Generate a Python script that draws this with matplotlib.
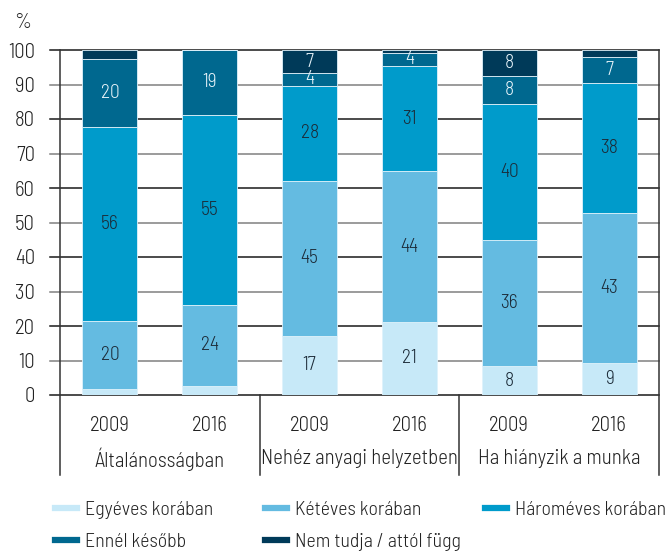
#!/usr/bin/env python
import numpy as np
import matplotlib
matplotlib.use('Agg')
import matplotlib.pyplot as plt
from matplotlib.lines import Line2D

plt.rcParams['font.family'] = ['Barlow Semi Condensed', 'DejaVu Sans']
plt.rcParams['font.weight'] = 300

groups = ['Általánosságban', 'Nehéz anyagi helyzetben', 'Ha hiányzik a munka']
years = ['2009', '2016', '2009', '2016', '2009', '2016']
series = ['Egyéves korában', 'Kétéves korában', 'Hároméves korában',
          'Ennél később', 'Nem tudja / attól függ']

# shares per bar (%)
egyeves = [1.8, 2.6, 17.2, 21.2, 8.4, 9.4]
keteves = [19.6, 23.6, 44.8, 43.6, 36.4, 43.4]
harom = [56.4, 55.0, 27.6, 30.6, 39.6, 37.7]
kesobb = [19.6, 18.8, 3.7, 3.7, 8.0, 7.4]
nem_tudja = [2.6, 0.0, 6.7, 0.9, 7.6, 2.1]

colors = ['#c7e9f8', '#64bbe1', '#009bcb', '#00688f', '#003a59']
text_colors = ['#1c2b38', '#1c2b38', '#1c2b38', '#e8f4fa', '#e8f4fa']

fig = plt.figure(figsize=(6.66, 5.51), dpi=100)
ax = fig.add_axes([60 / 666, 1 - 395 / 551, 599 / 666, 345 / 551])

x = np.arange(len(years))
bottom = np.zeros(len(years))
for vals, col, tcol, name in zip([egyeves, keteves, harom, kesobb, nem_tudja],
                                 colors, text_colors, series):
    vals = np.array(vals)
    ax.bar(x, vals, 0.55, bottom=bottom, color=col, edgecolor='#dff2fb',
           linewidth=0.6, zorder=3, label=name)
    for xi, v, b in zip(x, vals, bottom):
        if v >= 3.5:
            ax.text(xi, b + v / 2, f'{round(v)}', ha='center', va='center',
                    fontsize=14, color=tcol, zorder=4)
    bottom += vals

# gridlines with outward tick stubs
for t in range(0, 101, 10):
    c = '#1a1a1a' if t % 20 == 0 else '#808080'
    ax.axhline(t, xmin=-10 / 599, xmax=1, color=c, lw=1.1, zorder=1,
               clip_on=False)

ax.set_xlim(-0.5, 5.5)
ax.set_ylim(0, 100)
ax.set_yticks(range(0, 101, 10))
ax.tick_params(axis='y', length=0, pad=18, labelsize=15, labelcolor='#222222')
ax.set_xticks(x)
ax.set_xticklabels(years)
ax.tick_params(axis='x', length=0, pad=15, labelsize=15, labelcolor='#222222')
for s in ax.spines.values():
    s.set_visible(False)

# group separators and frame lines reaching below the axis
trans = ax.get_xaxis_transform()
for xv in [-0.5, 5.5]:
    ax.plot([xv, xv], [1, -0.232], transform=trans, color='#333333', lw=1.1,
            clip_on=False, zorder=2)
for xv in [1.5, 3.5]:
    ax.plot([xv, xv], [0, -0.232], transform=trans, color='#333333', lw=1.1,
            clip_on=False, zorder=2)
for i, g in enumerate(groups):
    ax.text(2 * i + 0.5, -0.185, g, transform=trans, ha='center', va='center',
            fontsize=15, color='#222222')

ax.text(-0.063, 1.08, '%', transform=ax.transAxes, ha='center', va='center',
        fontsize=15, color='#222222')

# legend, three columns
handles = [Line2D([0], [0], color=c, lw=4.5) for c in colors]
columns = [([0, 3], 55), ([1, 4], 265), ([2], 485)]
for idx, xpos in columns:
    leg = fig.legend([handles[i] for i in idx], [series[i] for i in idx],
                     loc='upper left', bbox_to_anchor=(xpos / 666, 1 - 501 / 551),
                     frameon=False, fontsize=14.3, handlelength=1.1,
                     handletextpad=0.4, labelspacing=0.72, borderpad=0,
                     borderaxespad=0)
    for t in leg.get_texts():
        t.set_color('#222222')

fig.savefig('out.png', dpi=100)
